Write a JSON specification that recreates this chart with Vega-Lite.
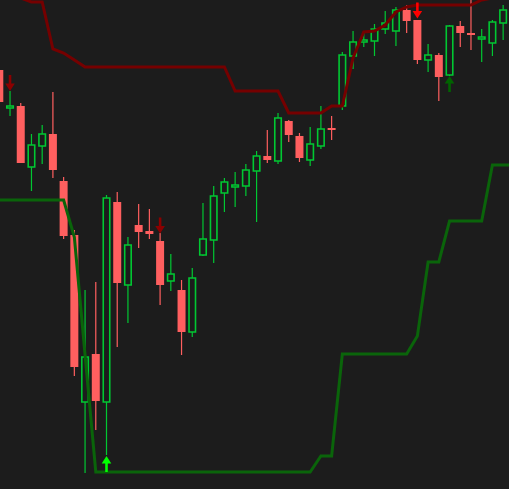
{
  "$schema": "https://vega.github.io/schema/vega-lite/v6.json",
  "width": 509,
  "height": 489,
  "padding": 0,
  "autosize": {"type": "none"},
  "background": "#1c1c1c",
  "config": {"view": {"stroke": null}},
  "datasets": {
    "candles": [
      {"i": 0, "dir": "down", "open": 419, "close": 387, "high": 424, "low": 384, "upper": 501, "lower": 289},
      {"i": 1, "dir": "up", "open": 381, "close": 383, "high": 398, "low": 373, "upper": 501, "lower": 289},
      {"i": 2, "dir": "down", "open": 383, "close": 326, "high": 386, "low": 326, "upper": 491, "lower": 289},
      {"i": 3, "dir": "up", "open": 322, "close": 344, "high": 355, "low": 298, "upper": 487, "lower": 289},
      {"i": 4, "dir": "up", "open": 343, "close": 355, "high": 364, "low": 325, "upper": 487, "lower": 289},
      {"i": 5, "dir": "down", "open": 355, "close": 319, "high": 397, "low": 311, "upper": 440, "lower": 289},
      {"i": 6, "dir": "down", "open": 308, "close": 253, "high": 312, "low": 250, "upper": 436, "lower": 289},
      {"i": 7, "dir": "down", "open": 254, "close": 122, "high": 259, "low": 113, "upper": 429, "lower": 252},
      {"i": 8, "dir": "up", "open": 87, "close": 132, "high": 199, "low": 16, "upper": 422, "lower": 134},
      {"i": 9, "dir": "down", "open": 135, "close": 88, "high": 207, "low": 59, "upper": 422, "lower": 17},
      {"i": 10, "dir": "up", "open": 87, "close": 291, "high": 294, "low": 34, "upper": 422, "lower": 17},
      {"i": 11, "dir": "down", "open": 287, "close": 206, "high": 297, "low": 142, "upper": 422, "lower": 17},
      {"i": 12, "dir": "up", "open": 204, "close": 244, "high": 252, "low": 166, "upper": 422, "lower": 17},
      {"i": 13, "dir": "down", "open": 264, "close": 257, "high": 285, "low": 241, "upper": 422, "lower": 17},
      {"i": 14, "dir": "down", "open": 258, "close": 255, "high": 280, "low": 250, "upper": 422, "lower": 17},
      {"i": 15, "dir": "down", "open": 248, "close": 204, "high": 256, "low": 184, "upper": 422, "lower": 17},
      {"i": 16, "dir": "up", "open": 208, "close": 215, "high": 235, "low": 198, "upper": 422, "lower": 17},
      {"i": 17, "dir": "down", "open": 199, "close": 157, "high": 209, "low": 134, "upper": 422, "lower": 17},
      {"i": 18, "dir": "up", "open": 157, "close": 211, "high": 221, "low": 152, "upper": 422, "lower": 17},
      {"i": 19, "dir": "up", "open": 234, "close": 250, "high": 286, "low": 233, "upper": 422, "lower": 17},
      {"i": 20, "dir": "up", "open": 249, "close": 293, "high": 303, "low": 226, "upper": 422, "lower": 17},
      {"i": 21, "dir": "up", "open": 296, "close": 307, "high": 311, "low": 277, "upper": 422, "lower": 17},
      {"i": 22, "dir": "up", "open": 302, "close": 304, "high": 317, "low": 282, "upper": 398, "lower": 17},
      {"i": 23, "dir": "up", "open": 303, "close": 319, "high": 325, "low": 293, "upper": 398, "lower": 17},
      {"i": 24, "dir": "up", "open": 318, "close": 333, "high": 338, "low": 267, "upper": 398, "lower": 17},
      {"i": 25, "dir": "down", "open": 333, "close": 329, "high": 359, "low": 326, "upper": 398, "lower": 17},
      {"i": 26, "dir": "up", "open": 328, "close": 371, "high": 376, "low": 325, "upper": 398, "lower": 17},
      {"i": 27, "dir": "down", "open": 368, "close": 354, "high": 369, "low": 347, "upper": 376, "lower": 17},
      {"i": 28, "dir": "down", "open": 353, "close": 331, "high": 356, "low": 327, "upper": 376, "lower": 17},
      {"i": 29, "dir": "up", "open": 329, "close": 345, "high": 362, "low": 323, "upper": 376, "lower": 17},
      {"i": 30, "dir": "up", "open": 343, "close": 360, "high": 383, "low": 340, "upper": 376, "lower": 33},
      {"i": 31, "dir": "down", "open": 361, "close": 359, "high": 373, "low": 349, "upper": 383, "lower": 33},
      {"i": 32, "dir": "up", "open": 383, "close": 434, "high": 437, "low": 379, "upper": 383, "lower": 135},
      {"i": 33, "dir": "up", "open": 433, "close": 447, "high": 458, "low": 420, "upper": 431, "lower": 135},
      {"i": 34, "dir": "up", "open": 447, "close": 449, "high": 458, "low": 442, "upper": 457, "lower": 135},
      {"i": 35, "dir": "up", "open": 448, "close": 460, "high": 465, "low": 433, "upper": 458, "lower": 135},
      {"i": 36, "dir": "up", "open": 460, "close": 466, "high": 478, "low": 455, "upper": 464, "lower": 135},
      {"i": 37, "dir": "up", "open": 458, "close": 479, "high": 482, "low": 443, "upper": 477, "lower": 135},
      {"i": 38, "dir": "down", "open": 479, "close": 468, "high": 484, "low": 456, "upper": 482, "lower": 135},
      {"i": 39, "dir": "down", "open": 469, "close": 429, "high": 469, "low": 425, "upper": 484, "lower": 153},
      {"i": 40, "dir": "up", "open": 429, "close": 434, "high": 445, "low": 417, "upper": 484, "lower": 227},
      {"i": 41, "dir": "down", "open": 434, "close": 412, "high": 436, "low": 388, "upper": 484, "lower": 227},
      {"i": 42, "dir": "up", "open": 414, "close": 463, "high": 464, "low": 413, "upper": 484, "lower": 268},
      {"i": 43, "dir": "down", "open": 463, "close": 456, "high": 468, "low": 442, "upper": 484, "lower": 268},
      {"i": 44, "dir": "down", "open": 456, "close": 454, "high": 489, "low": 439, "upper": 484, "lower": 268},
      {"i": 45, "dir": "up", "open": 450, "close": 452, "high": 460, "low": 427, "upper": 489, "lower": 268},
      {"i": 46, "dir": "up", "open": 446, "close": 467, "high": 469, "low": 433, "upper": 491, "lower": 324},
      {"i": 47, "dir": "up", "open": 466, "close": 479, "high": 484, "low": 449, "upper": 491, "lower": 324},
      {"i": 48, "dir": "none", "open": null, "close": null, "high": null, "low": null, "upper": 491, "lower": 324}
    ],
    "signals": [
      {"i": 1, "price": 406, "kind": "sell"},
      {"i": 15, "price": 263.5, "kind": "sell"},
      {"i": 39, "price": 478.5, "kind": "strong sell"},
      {"i": 10, "price": 25, "kind": "strong buy"},
      {"i": 42, "price": 405, "kind": "buy"}
    ]
  },
  "encoding": {
    "x": {"field": "i", "type": "quantitative", "axis": null, "scale": {"domain": [0.065, 47.547], "nice": false, "zero": false, "padding": 0}}
  },
  "layer": [
    {
      "data": {"name": "candles"},
      "transform": [{"filter": "datum.dir == 'up'"}],
      "mark": {"type": "rule", "color": "#00c832", "strokeWidth": 1.2, "clip": true},
      "encoding": {
        "y": {"field": "low", "type": "quantitative", "axis": null, "scale": {"domain": [0, 489], "nice": false, "zero": false, "padding": 0}},
        "y2": {"field": "high"}
      }
    },
    {
      "data": {"name": "candles"},
      "transform": [{"filter": "datum.dir == 'down'"}],
      "mark": {"type": "rule", "color": "#ff5f5f", "strokeWidth": 1.2, "clip": true},
      "encoding": {
        "y": {"field": "low", "type": "quantitative"},
        "y2": {"field": "high"}
      }
    },
    {
      "data": {"name": "candles"},
      "transform": [{"filter": "datum.dir == 'down'"}],
      "mark": {"type": "bar", "color": "#ff5f5f", "width": 8, "clip": true},
      "encoding": {
        "y": {"field": "open", "type": "quantitative"},
        "y2": {"field": "close"}
      }
    },
    {
      "data": {"name": "candles"},
      "transform": [{"filter": "datum.dir == 'up'"}],
      "mark": {"type": "bar", "fill": "#1c1c1c", "stroke": "#00c832", "strokeWidth": 1.6, "width": 6.5, "clip": true},
      "encoding": {
        "y": {"field": "open", "type": "quantitative"},
        "y2": {"field": "close"}
      }
    },
    {
      "data": {"name": "candles"},
      "mark": {"type": "line", "color": "#750000", "strokeWidth": 3, "clip": true},
      "encoding": {
        "y": {"field": "upper", "type": "quantitative"}
      }
    },
    {
      "data": {"name": "candles"},
      "mark": {"type": "line", "color": "#0a640a", "strokeWidth": 3, "clip": true},
      "encoding": {
        "y": {"field": "lower", "type": "quantitative"}
      }
    },
    {
      "data": {"name": "signals"},
      "mark": {"type": "point", "filled": true, "opacity": 1, "size": 256, "strokeWidth": 0, "clip": true},
      "encoding": {
        "y": {"field": "price", "type": "quantitative"},
        "shape": {
          "field": "kind", "type": "nominal", "legend": null,
          "scale": {
            "domain": ["sell", "strong sell", "strong buy", "buy"],
            "range": [
              "M-0.16,-1L0.16,-1L0.16,0.06L0.6,0.06L0,1L-0.6,0.06L-0.16,0.06Z",
              "M-0.16,-1L0.16,-1L0.16,0.06L0.6,0.06L0,1L-0.6,0.06L-0.16,0.06Z",
              "M-0.16,1L0.16,1L0.16,-0.06L0.6,-0.06L0,-1L-0.6,-0.06L-0.16,-0.06Z",
              "M-0.16,1L0.16,1L0.16,-0.06L0.6,-0.06L0,-1L-0.6,-0.06L-0.16,-0.06Z"
            ]
          }
        },
        "color": {
          "field": "kind", "type": "nominal", "legend": null,
          "scale": {
            "domain": ["sell", "strong sell", "strong buy", "buy"],
            "range": ["#8b0000", "#ff0000", "#00ff00", "#006400"]
          }
        }
      }
    }
  ]
}
